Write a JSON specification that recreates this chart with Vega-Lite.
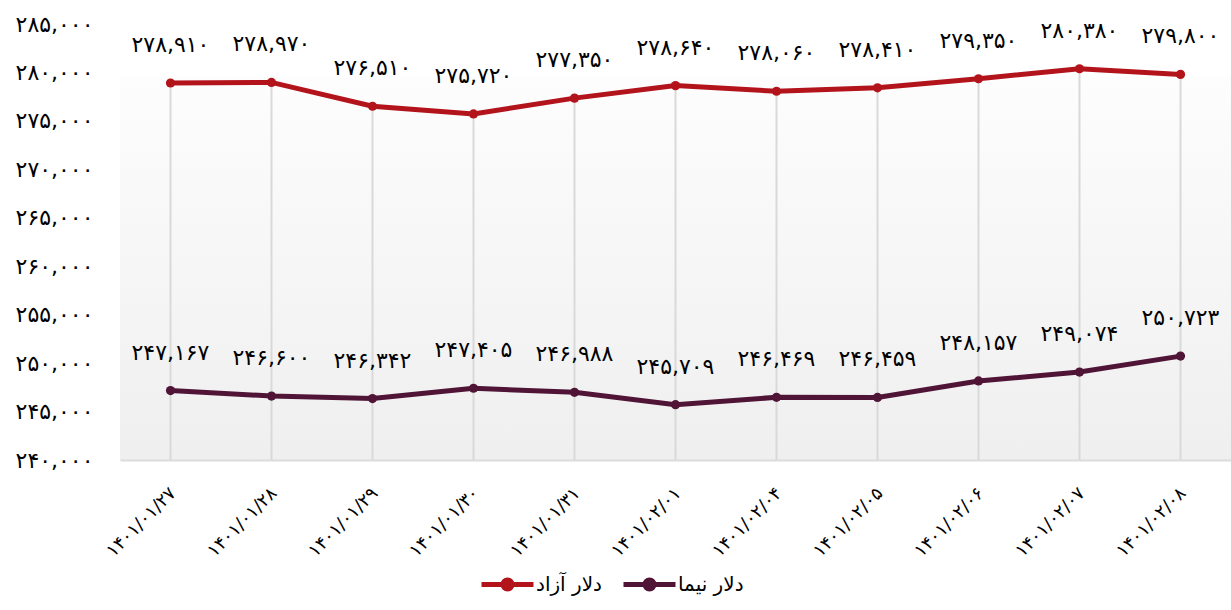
{
  "$schema": "https://vega.github.io/schema/vega-lite/v6.json",
  "width": 1111,
  "height": 436,
  "autosize": "none",
  "padding": {"left": 120, "top": 24, "right": 0, "bottom": 150},
  "background": "white",
  "config": {
    "font": "DejaVu Sans",
    "view": {
      "stroke": null,
      "fill": {"gradient": "linear", "x1": 0, "y1": 0, "x2": 0, "y2": 1,
        "stops": [{"offset": 0, "color": "#ffffff"}, {"offset": 0.12, "color": "#ffffff"}, {"offset": 0.121, "color": "#fdfdfd"}, {"offset": 1, "color": "#efefef"}]}
    }
  },
  "data": {"values": [
    {"date": "۱۴۰۱/۰۱/۲۷", "series": "دلار آزاد", "value": 278910, "label": "۲۷۸,۹۱۰"},
    {"date": "۱۴۰۱/۰۱/۲۸", "series": "دلار آزاد", "value": 278970, "label": "۲۷۸,۹۷۰"},
    {"date": "۱۴۰۱/۰۱/۲۹", "series": "دلار آزاد", "value": 276510, "label": "۲۷۶,۵۱۰"},
    {"date": "۱۴۰۱/۰۱/۳۰", "series": "دلار آزاد", "value": 275720, "label": "۲۷۵,۷۲۰"},
    {"date": "۱۴۰۱/۰۱/۳۱", "series": "دلار آزاد", "value": 277350, "label": "۲۷۷,۳۵۰"},
    {"date": "۱۴۰۱/۰۲/۰۱", "series": "دلار آزاد", "value": 278640, "label": "۲۷۸,۶۴۰"},
    {"date": "۱۴۰۱/۰۲/۰۴", "series": "دلار آزاد", "value": 278060, "label": "۲۷۸,۰۶۰"},
    {"date": "۱۴۰۱/۰۲/۰۵", "series": "دلار آزاد", "value": 278410, "label": "۲۷۸,۴۱۰"},
    {"date": "۱۴۰۱/۰۲/۰۶", "series": "دلار آزاد", "value": 279350, "label": "۲۷۹,۳۵۰"},
    {"date": "۱۴۰۱/۰۲/۰۷", "series": "دلار آزاد", "value": 280380, "label": "۲۸۰,۳۸۰"},
    {"date": "۱۴۰۱/۰۲/۰۸", "series": "دلار آزاد", "value": 279800, "label": "۲۷۹,۸۰۰"},
    {"date": "۱۴۰۱/۰۱/۲۷", "series": "دلار نیما", "value": 247167, "label": "۲۴۷,۱۶۷"},
    {"date": "۱۴۰۱/۰۱/۲۸", "series": "دلار نیما", "value": 246600, "label": "۲۴۶,۶۰۰"},
    {"date": "۱۴۰۱/۰۱/۲۹", "series": "دلار نیما", "value": 246342, "label": "۲۴۶,۳۴۲"},
    {"date": "۱۴۰۱/۰۱/۳۰", "series": "دلار نیما", "value": 247405, "label": "۲۴۷,۴۰۵"},
    {"date": "۱۴۰۱/۰۱/۳۱", "series": "دلار نیما", "value": 246988, "label": "۲۴۶,۹۸۸"},
    {"date": "۱۴۰۱/۰۲/۰۱", "series": "دلار نیما", "value": 245709, "label": "۲۴۵,۷۰۹"},
    {"date": "۱۴۰۱/۰۲/۰۴", "series": "دلار نیما", "value": 246469, "label": "۲۴۶,۴۶۹"},
    {"date": "۱۴۰۱/۰۲/۰۵", "series": "دلار نیما", "value": 246459, "label": "۲۴۶,۴۵۹"},
    {"date": "۱۴۰۱/۰۲/۰۶", "series": "دلار نیما", "value": 248157, "label": "۲۴۸,۱۵۷"},
    {"date": "۱۴۰۱/۰۲/۰۷", "series": "دلار نیما", "value": 249074, "label": "۲۴۹,۰۷۴"},
    {"date": "۱۴۰۱/۰۲/۰۸", "series": "دلار نیما", "value": 250723, "label": "۲۵۰,۷۲۳"}
  ]},
  "encoding": {
    "x": {
      "field": "date", "type": "ordinal", "sort": null,
      "scale": {"type": "point", "padding": 0.5},
      "axis": {"title": null, "labelAngle": -45, "labelFontSize": 18, "labelColor": "#000000", "ticks": false, "grid": false, "domain": true, "domainColor": "#dcdcdc", "domainWidth": 2, "labelPadding": 24, "labelOffset": -4}
    },
    "y": {
      "field": "value", "type": "quantitative",
      "scale": {"domain": [240000, 285000], "nice": false, "zero": false},
      "axis": {"title": null, "values": [240000, 245000, 250000, 255000, 260000, 265000, 270000, 275000, 280000, 285000],
        "format": ",d", "grid": false, "ticks": false, "domain": false, "labelFontSize": 22, "labelColor": "#000000", "labelPadding": 27,
        "labelExpr": "replace(replace(replace(replace(replace(replace(replace(replace(replace(replace(datum.label, regexp('0','g'), '۰'), regexp('1','g'), '۱'), regexp('2','g'), '۲'), regexp('3','g'), '۳'), regexp('4','g'), '۴'), regexp('5','g'), '۵'), regexp('6','g'), '۶'), regexp('7','g'), '۷'), regexp('8','g'), '۸'), regexp('9','g'), '۹')"}
    }
  },
  "layer": [
    {
      "transform": [{"filter": "datum.series === 'دلار آزاد'"}],
      "mark": {"type": "rule", "color": "#d9d9d9", "strokeWidth": 2},
      "encoding": {"y2": {"datum": 240000}}
    },
    {
      "mark": {"type": "line", "strokeWidth": 5, "point": {"filled": true, "size": 85, "opacity": 1}},
      "encoding": {
        "color": {
          "field": "series", "type": "nominal",
          "scale": {"domain": ["دلار آزاد", "دلار نیما"], "range": ["#b3141c", "#501536"]},
          "legend": {"title": null, "orient": "none", "legendX": 375, "legendY": 548, "direction": "horizontal", "labelFontSize": 20, "labelColor": "#000000",
            "symbolType": "M-2.6,0L2.6,0M0.45,0A0.45,0.45,0,1,1,-0.45,0A0.45,0.45,0,1,1,0.45,0",
            "symbolSize": 400, "symbolStrokeWidth": 5, "labelOffset": 16, "columnPadding": 10,
            "encode": {"symbols": {"update": {"fill": {"scale": "color", "field": "value"}, "stroke": {"scale": "color", "field": "value"}}}}}
        }
      }
    },
    {
      "mark": {"type": "text", "dy": -38, "fontSize": 22, "color": "#000000"},
      "encoding": {"text": {"field": "label"}}
    }
  ]
}
